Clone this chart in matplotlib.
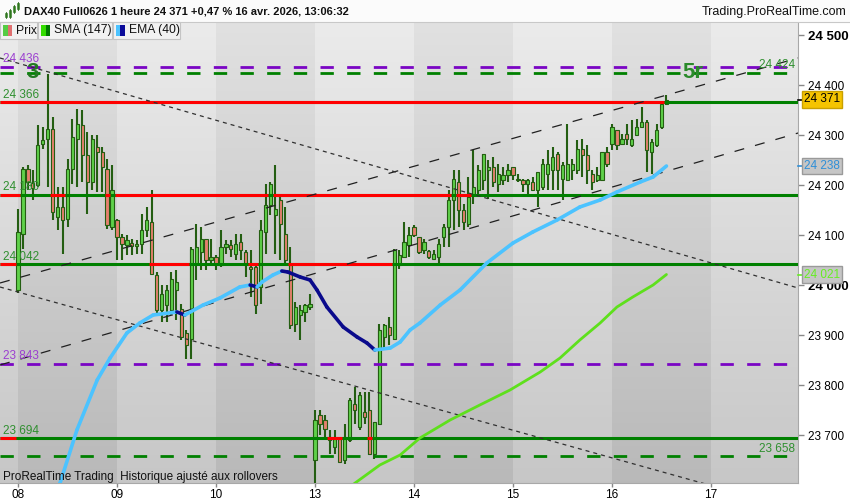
import numpy as np
import matplotlib.pyplot as plt
import matplotlib.transforms as mtransforms
from matplotlib.patches import Rectangle
from matplotlib.lines import Line2D

plt.rcParams['font.family'] = ['Liberation Sans', 'DejaVu Sans']

# Hourly candles, 20 per day (08, 09, 10, 13, 14, 15 avr. and 16 avr. up to 13:00)
opens = [
    23990, 24103, 24233, 24205, 24200, 24283, 24293, 24313, 24137, 24157,
    24133, 24233, 24293, 24320, 24260, 24207, 24277, 24267, 24233, 24117,
    24130, 24097, 24080, 24085, 24078, 24083, 24110, 24127, 24020, 23950,
    23960, 23950, 23990, 23953, 23905, 23893, 24043, 24067, 24093, 24050,
    24057, 24040, 24077, 24080, 24063, 24087, 24067, 24037, 24037, 23997,
    24107, 24160, 24140, 24170, 24103, 24040, 23923, 23940, 23947, 23957,
    23650, 23740, 23730, 23697, 23677, 23693, 23650, 23690, 23763, 23717,
    23747, 23750, 23663, 23723, 23897, 23917, 23893, 24040, 24057, 24080,
    24117, 24097, 24070, 24069, 24053, 24057, 24097, 24117, 24170, 24207,
    24150, 24123, 24183, 24190, 24210, 24230, 24237, 24203, 24210, 24220,
    24237, 24213, 24211, 24203, 24207, 24190, 24197, 24223, 24230, 24263,
    24213, 24210, 24230, 24230, 24273, 24260, 24223, 24210, 24210, 24267,
    24283, 24310, 24283, 24303, 24280, 24300, 24317, 24327, 24267, 24280,
    24317, 24363,
]
highs = [
    24153, 24237, 24240, 24230, 24320, 24317, 24423, 24337, 24197, 24197,
    24253, 24333, 24353, 24350, 24307, 24300, 24300, 24277, 24253, 24240,
    24133, 24103, 24100, 24093, 24090, 24143, 24157, 24190, 24027, 24000,
    24000, 24027, 24030, 23963, 23910, 24077, 24123, 24117, 24093, 24093,
    24060, 24110, 24090, 24090, 24103, 24103, 24070, 24070, 24043, 24130,
    24203, 24207, 24240, 24183, 24157, 24077, 23967, 23960, 23963, 23983,
    23751, 23750, 23740, 23710, 23710, 23697, 23723, 23775, 23797, 23787,
    23787, 23787, 23727, 23923, 23923, 23937, 24073, 24070, 24127, 24117,
    24120, 24097, 24093, 24070, 24070, 24093, 24123, 24190, 24230, 24230,
    24163, 24217, 24270, 24240, 24263, 24250, 24257, 24243, 24237, 24243,
    24237, 24223, 24213, 24213, 24217, 24227, 24253, 24270, 24277, 24267,
    24247, 24323, 24253, 24290, 24293, 24280, 24230, 24237, 24267, 24277,
    24323, 24310, 24303, 24323, 24330, 24333, 24357, 24330, 24293, 24323,
    24363, 24380,
]
lows = [
    23985, 24073, 24190, 24170, 24197, 24273, 24197, 24130, 24110, 24063,
    24117, 24203, 24197, 24207, 24143, 24190, 24187, 24187, 24113, 24110,
    24050, 24050, 24060, 24060, 24063, 24063, 24097, 24023, 23943, 23927,
    23927, 23940, 23930, 23890, 23853, 23853, 24010, 24030, 24030, 24043,
    24030, 24037, 24063, 24057, 24050, 24050, 24017, 23977, 23943, 23963,
    24063, 24140, 24063, 24050, 24043, 23913, 23907, 23890, 23927, 23950,
    23590, 23700, 23690, 23663, 23663, 23647, 23643, 23687, 23723, 23710,
    23723, 23660, 23653, 23720, 23870, 23880, 23890, 24033, 24057, 24057,
    24097, 24063, 24063, 24053, 24050, 24040, 24077, 24077, 24110, 24117,
    24110, 24117, 24163, 24183, 24190, 24173, 24197, 24187, 24200, 24207,
    24210, 24207, 24187, 24183, 24190, 24157, 24190, 24190, 24190, 24190,
    24170, 24210, 24210, 24223, 24217, 24203, 24190, 24207, 24210, 24237,
    24270, 24270, 24280, 24280, 24277, 24300, 24317, 24227, 24223, 24277,
    24313, 24360,
]
closes = [
    24107, 24233, 24207, 24195, 24280, 24290, 24313, 24147, 24157, 24130,
    24233, 24297, 24323, 24260, 24207, 24293, 24267, 24237, 24120, 24190,
    24097, 24083, 24090, 24078, 24083, 24110, 24130, 24023, 23950, 23983,
    23990, 24013, 24007, 23897, 23880, 24073, 24077, 24093, 24050, 24057,
    24043, 24077, 24083, 24073, 24083, 24070, 24043, 24033, 23960, 24110,
    24160, 24203, 24153, 24123, 24050, 23920, 23957, 23950, 23960, 23963,
    23730, 23723, 23713, 23690, 23693, 23647, 23697, 23770, 23750, 23780,
    23737, 23663, 23727, 23910, 23920, 23900, 24070, 24060, 24087, 24100,
    24100, 24067, 24087, 24057, 24063, 24083, 24117, 24170, 24213, 24150,
    24127, 24177, 24197, 24230, 24263, 24237, 24207, 24223, 24220, 24230,
    24220, 24210, 24203, 24210, 24190, 24227, 24243, 24243, 24257, 24230,
    24240, 24243, 24243, 24273, 24260, 24230, 24207, 24220, 24267, 24243,
    24317, 24280, 24293, 24293, 24293, 24317, 24327, 24270, 24287, 24310,
    24363, 24371,
]

# EMA(40) and SMA(147) (x in candle index units)
ema_x = [7.5, 8.5, 11.9, 16.0, 18.6, 22.0, 24.6, 27.3, 32.1, 33.7, 37.4, 40.8,
         44.8, 46.9, 48.3, 49.3, 51.5, 53.3, 54.5, 57.0, 59.0, 60.4, 62.4, 65.7,
         68.5, 70.5, 72.1, 75.2, 77.2, 79.2, 81.2, 85.3, 89.3, 94.7, 100.0,
         104.0, 108.9, 113.5, 117.6, 121.0, 125.7, 128.3, 131.0]
ema_y = [23570, 23604, 23710, 23810, 23854, 23904, 23924, 23940, 23946, 23940,
         23960, 23974, 23996, 24000, 23996, 24006, 24020, 24028, 24026, 24016,
         24010, 23990, 23956, 23916, 23896, 23884, 23870, 23874, 23886, 23910,
         23924, 23960, 23990, 24044, 24084, 24106, 24130, 24156, 24170, 24186,
         24206, 24216, 24238]
sma_x = [65.0, 68.1, 73.1, 77.2, 81.2, 87.3, 93.3, 99.4, 105.5, 109.5, 113.5,
         117.6, 121.0, 124.2, 128.3, 131.0]
sma_y = [23580, 23604, 23640, 23660, 23694, 23730, 23760, 23790, 23826, 23854,
         23890, 23924, 23956, 23976, 24000, 24021]

# horizontal levels
solid_levels = [24366, 24180, 24042, 23694]
purple_levels = [24436, 23843]
green_dash_levels = [24424, 23658]

day_pos = [0, 20, 40, 60, 80, 100, 120, 140]
day_labels = ['08', '09', '10', '13', '14', '15', '16', '17']
price_ticks = [23700, 23800, 23900, 24000, 24100, 24200, 24300, 24400, 24500]

# trend lines (x in candle index, price)
channel_lines = [[(-3.64, 24004), (157.6, 24454)], [(-3.64, 23840), (157.6, 24304)]]
falling_lines = [[(-3.64, 24454), (157.6, 23994)], [(-3.64, 23996), (141.8, 23594)]]

W, H = 850, 500
RED = '#ff0000'
GREEN = '#008000'
PURPLE = '#7a05c4'
LABEL_GREEN = '#2f8f2f'
WICK = '#245e12'


def fx(px):
    return px / W


def fy(py):
    return 1 - py / H


def fmt(v):
    return f'{v:,}'.replace(',', ' ')


fig = plt.figure(figsize=(8.5, 5), dpi=100)
fig.patch.set_facecolor('white')
ax = fig.add_axes([0, fy(483), 798 / W, (483 - 22) / H])

x_min, x_max = -18 / 4.95, 780 / 4.95
y_min, y_max = 23604, 24526

# day bands with a vertical gradient
edges = [x_min] + day_pos + [x_max]
grad = np.linspace(0, 1, 256)[:, None]
for k in range(len(edges) - 1):
    top, bot = (0.882, 0.725) if k % 2 == 1 else (0.922, 0.78)
    col = top + (bot - top) * grad
    img = np.dstack([col, col, col])
    ax.imshow(img, extent=[edges[k], edges[k + 1], y_min, y_max],
              aspect='auto', origin='upper', zorder=0, interpolation='bilinear')

n = len(closes)
xs = np.arange(n)
o = np.array(opens)
c = np.array(closes)

# candles
ax.vlines(xs, lows, highs, color=WICK, lw=1.5, zorder=3)
body_lo = np.minimum(o, c)
body_h = np.maximum(np.abs(c - o), 3)
body_col = ['#5fd14a' if cc >= oo else '#e5806e' for oo, cc in zip(o, c)]
ax.bar(xs, body_h, bottom=body_lo, width=0.66, color=body_col,
       edgecolor=WICK, linewidth=0.8, zorder=3.5)

# dashed levels
for lvl in purple_levels:
    ax.plot([x_min, 156.5], [lvl, lvl], color=PURPLE, lw=2, dashes=(4.8, 4.8), zorder=4)
for lvl in green_dash_levels:
    ax.plot([x_min, 156.5], [lvl, lvl], color=GREEN, lw=2, dashes=(4.8, 4.8), zorder=4)

# solid levels: green where price closes above, red runs where it closes below
for lvl in solid_levels:
    ax.plot([x_min, x_max], [lvl, lvl], color=GREEN, lw=2.2, zorder=4,
            solid_capstyle='butt')
    below = [cl < lvl for cl in closes]
    runs = [[x_min, -0.5]]
    for i, b in enumerate(below):
        if not b:
            continue
        x2 = i + 0.5 if i < n - 1 else x_max
        if runs and abs(runs[-1][1] - (i - 0.5)) < 1e-9:
            runs[-1][1] = x2
        else:
            runs.append([i - 0.5, x2])
    for r0, r1 in runs:
        ax.plot([r0, r1], [lvl, lvl], color=RED, lw=2.2, zorder=4.05,
                solid_capstyle='butt')

# trend lines
for (p1, p2) in channel_lines:
    ax.plot([p1[0], p2[0]], [p1[1], p2[1]], color='#202020', lw=0.9,
            dashes=(8, 9), zorder=4.2)
for (p1, p2) in falling_lines:
    ax.plot([p1[0], p2[0]], [p1[1], p2[1]], color='#303030', lw=0.9,
            dashes=(3.2, 3.2), zorder=4.2)

# SMA and EMA
ax.plot(sma_x, sma_y, color='#5ee01c', lw=2, zorder=5, solid_capstyle='round')
for k in range(len(ema_x) - 1):
    colr = '#4cc3ff' if ema_y[k + 1] >= ema_y[k] else '#0a0a8c'
    ax.plot(ema_x[k:k + 2], ema_y[k:k + 2], color=colr, lw=2.6, zorder=5,
            solid_capstyle='round')

# level labels
left_x = (3 - 18) / 4.95
for lvl, colr in [(24436, '#9b3fd0'), (24366, LABEL_GREEN), (24180, LABEL_GREEN),
                  (24042, LABEL_GREEN), (23843, '#9b3fd0'), (23694, LABEL_GREEN)]:
    ax.text(left_x, lvl + 3, fmt(lvl), color=colr,
            fontsize=8.5, ha='left', va='bottom', zorder=6)
right_x = (795 - 18) / 4.95
for lvl in green_dash_levels:
    ax.text(right_x, lvl + 3, fmt(lvl), color=LABEL_GREEN,
            fontsize=8.5, ha='right', va='bottom', zorder=6)

ax.text((33 - 18) / 4.95, 24424, '3', color='#237a23', fontsize=16,
        fontweight='heavy', ha='center', va='center', zorder=6)
ax.text((693 - 18) / 4.95, 24426, '5r', color='#2a8a2a', fontsize=16,
        fontweight='heavy', ha='center', va='center', zorder=6)

ax.set_xlim(x_min, x_max)
ax.set_ylim(y_min, y_max)

# axes styling
for s in ['left', 'top']:
    ax.spines[s].set_visible(False)
for s in ['right', 'bottom']:
    ax.spines[s].set_color('#a8a8a8')
ax.yaxis.tick_right()
ax.set_yticks(price_ticks)
ax.set_yticklabels([fmt(v) for v in price_ticks])
ax.tick_params(axis='y', length=4, width=1, color='#888888', pad=3, labelsize=8.5)
for lab, v in zip(ax.get_yticklabels(), price_ticks):
    if v in (24500, 24000):
        lab.set_fontweight('bold')
        lab.set_fontsize(9.5)
ax.set_xticks(day_pos)
ax.set_xticklabels(day_labels)
ax.tick_params(axis='x', length=3, width=1, color='#888888', pad=1, labelsize=8.5)

# value badges on the price axis
trans = mtransforms.blended_transform_factory(ax.transAxes, ax.transData)
for val, fc, ec, tc in [(24371, '#f5c400', '#c9a000', 'black'),
                        (24238, '#c6c6c6', '#9a9a9a', '#2f8fd8'),
                        (24021, '#c6c6c6', '#9a9a9a', '#66ee22')]:
    ax.plot([1.0, 1.0 + 6 / 798], [val, val], color=tc, lw=1.2,
            transform=trans, clip_on=False, zorder=9)
    ax.text(1.0 + 6 / 798, val, fmt(val), transform=trans,
            color=tc, fontsize=8.5, ha='left', va='center', zorder=10, clip_on=False,
            bbox=dict(boxstyle='square,pad=0.18', fc=fc, ec=ec, lw=1))

# title bar
fig.add_artist(Rectangle((0, fy(22)), 1, 22 / H, transform=fig.transFigure,
                         fc='#fbfbfb', ec='none', zorder=1))
fig.add_artist(Line2D([0, 1], [fy(22), fy(22)], transform=fig.transFigure,
                      color='#c8c8c8', lw=0.8))
for px0, y0, y1 in [(6, 13, 17), (10, 10, 17), (14, 6, 12), (18, 3, 9)]:
    fig.add_artist(Line2D([fx(px0), fx(px0)], [fy(y0 - 1), fy(y1 + 1)],
                          transform=fig.transFigure, color='#2a6b1a', lw=0.6))
    fig.add_artist(Rectangle((fx(px0 - 1.2), fy(y1)), 2.4 / W, (y1 - y0) / H,
                             transform=fig.transFigure, fc='#4caf3a', ec='#2a6b1a', lw=0.4))
fig.text(fx(24), fy(12), 'DAX40 Full0626 1 heure 24 371 +0,47 % 16 avr. 2026, 13:06:32',
         fontsize=8, fontweight='bold', ha='left', va='center', color='#111111')
fig.text(fx(846), fy(12), 'Trading.ProRealTime.com', fontsize=9,
         ha='right', va='center', color='#111111')

# indicator legend boxes
legend_items = [(0, 37, 'Prix', '#55cc44', '#e07070'),
                (38, 112, 'SMA (147)', '#33dd00', '#007a00'),
                (113, 180, 'EMA (40)', '#4cc3ff', '#0a0a9a')]
for x0, x1, label, c1, c2 in legend_items:
    fig.add_artist(Rectangle((fx(x0), fy(39)), (x1 - x0) / W, 17 / H,
                             transform=fig.transFigure, fc='#f2f2f2', ec='#c4c4c4', lw=0.8))
    fig.add_artist(Rectangle((fx(x0 + 3), fy(36)), 4.5 / W, 11 / H,
                             transform=fig.transFigure, fc=c1, ec='none'))
    fig.add_artist(Rectangle((fx(x0 + 7.5), fy(36)), 4.5 / W, 11 / H,
                             transform=fig.transFigure, fc=c2, ec='none'))
    fig.text(fx(x0 + 16), fy(30.5), label, fontsize=8.7, ha='left', va='center',
             color='#111111')

fig.text(fx(3), fy(477), 'ProRealTime Trading  Historique ajusté aux rollovers',
         fontsize=8.5, ha='left', va='center', color='#111111')

fig.savefig('out.png', dpi=100)
